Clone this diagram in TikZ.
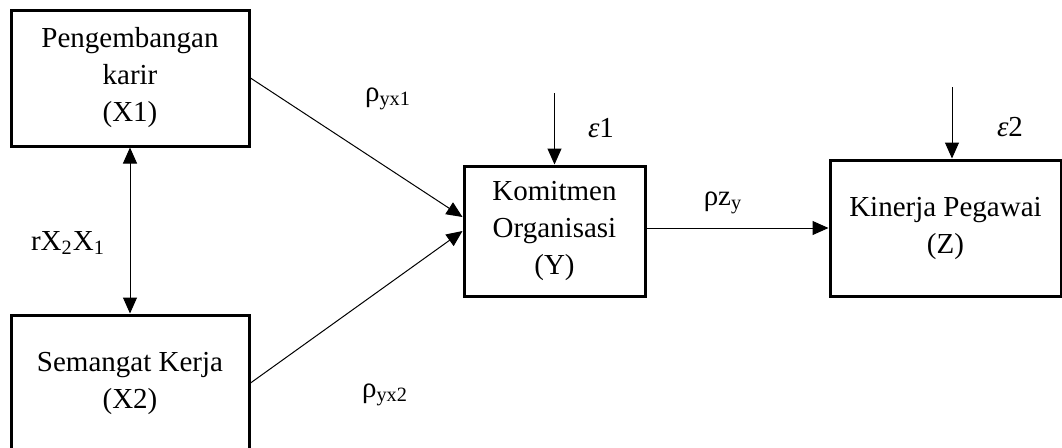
\documentclass[tikz,border=0pt]{standalone}
\usepackage{amsmath}
\usepackage{fontspec}
\setmainfont{Liberation Serif}
\usetikzlibrary{arrows.meta}

\begin{document}
\begin{tikzpicture}[x=0.5pt,y=-0.5pt,
		varbox/.style={draw,line width=1.5pt,align=center,inner sep=0pt,
			font=\fontsize{14.5}{18.5}\selectfont},
		arr/.style={line width=0.5pt,-{Triangle[length=8pt,width=7pt]}},
		lbl/.style={font=\fontsize{14.5}{18.5}\selectfont,inner sep=0pt}]
	\useasboundingbox (0,0) rectangle (1062,447);
	% variables
	\node[varbox,minimum width=119pt,minimum height=68pt] (x1) at (130,78) {Pengembangan\\karir\\(X1)};
	\node[varbox,minimum width=119pt,minimum height=68pt] (x2) at (130,383) {Semangat Kerja\\(X2)};
	\node[varbox,minimum width=90.5pt,minimum height=65pt] (ky) at (554.5,231) {Komitmen\\Organisasi\\(Y)};
	\node[varbox,minimum width=115.5pt,minimum height=68pt] (kz) at (945.5,228) {Kinerja Pegawai\\(Z)};
	% error terms
	\coordinate (e1) at (554.5,93);
	\coordinate (e2) at (952,87);
	% paths
	\draw[arr] (x1.east) -- ([yshift=7pt]ky.west);
	\draw[arr] (x2.east) -- (ky.west);
	\draw[arr,{Triangle[length=8pt,width=7pt]}-{Triangle[length=8pt,width=7pt]}] (x1.south) -- (x2.north);
	\draw[arr] (ky.east |- kz.west) -- (kz.west);
	\draw[arr] (e1) -- (ky.north);
	\draw[arr] (e2) -- (e2 |- kz.north);
	% labels
	\node[lbl] (p1) at (388,99) {ρ\textsubscript{yx1}};
	\node[lbl] (p2) at (385,395) {ρ\textsubscript{yx2}};
	\node[lbl] (r12) at (68,243) {rX\textsubscript{2}X\textsubscript{1}};
	\node[lbl] (pz) at (723,203) {ρz\textsubscript{y}};
	\node[lbl] (le1) at (601,128) {\textit{ε}1};
	\node[lbl] (le2) at (1010,127) {\textit{ε}2};
\end{tikzpicture}
\end{document}
